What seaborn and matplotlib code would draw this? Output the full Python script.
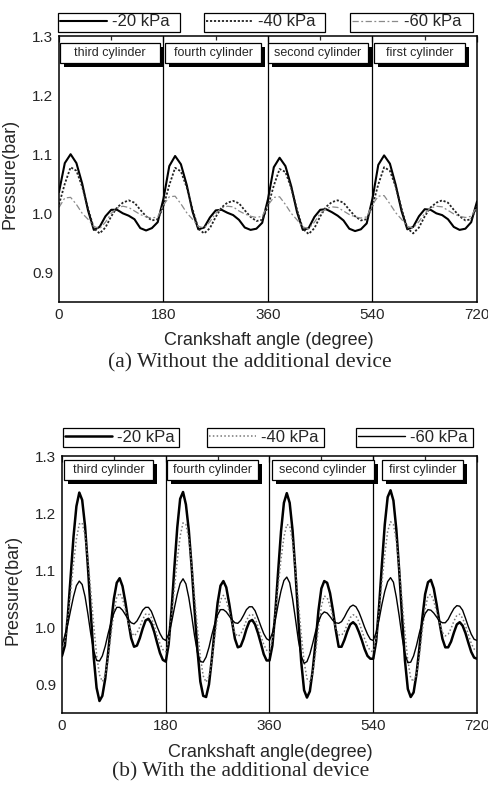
import numpy as np
import pandas as pd
import matplotlib
matplotlib.use("Agg")
import matplotlib.pyplot as plt
import matplotlib.patheffects as pe
from matplotlib.patches import Rectangle
from matplotlib.ticker import MultipleLocator
import seaborn as sns

# ---------------- data ----------------
angles_a = list(range(0, 721, 10))  # crankshaft angle, degrees (panel a)
angles_b = list(range(0, 721, 5))   # crankshaft angle, degrees (panel b)

series_labels = ["-20 kPa", "-40 kPa", "-60 kPa"]
cylinders = ["third cylinder", "fourth cylinder", "second cylinder", "first cylinder"]
x_ticks = [0, 180, 360, 540, 720]
y_ticks = [0.9, 1.0, 1.1, 1.2, 1.3]

# (a) without the additional device
a_20 = [1.036, 1.085, 1.100, 1.085, 1.050, 1.005, 0.972, 0.977, 0.995, 1.006, 1.006, 1.000, 0.996, 0.990, 0.975, 0.971, 0.975, 0.985,
        1.025, 1.080, 1.097, 1.083, 1.048, 1.003, 0.973, 0.976, 0.993, 1.005, 1.006, 1.001, 0.997, 0.989, 0.976, 0.972, 0.974, 0.984,
        1.024, 1.078, 1.094, 1.080, 1.046, 1.002, 0.972, 0.975, 0.994, 1.006, 1.007, 1.002, 0.996, 0.988, 0.974, 0.970, 0.973, 0.983,
        1.025, 1.082, 1.098, 1.084, 1.048, 1.004, 0.973, 0.977, 0.995, 1.007, 1.006, 1.000, 0.997, 0.990, 0.977, 0.972, 0.974, 0.985,
        1.020]
a_40 = [1.015, 1.050, 1.078, 1.072, 1.045, 1.008, 0.975, 0.966, 0.976, 0.995, 1.010, 1.018, 1.022, 1.018, 1.006, 0.995, 0.988, 0.990,
        1.012, 1.048, 1.077, 1.071, 1.044, 1.007, 0.974, 0.966, 0.975, 0.994, 1.010, 1.018, 1.021, 1.017, 1.005, 0.994, 0.987, 0.989,
        1.012, 1.047, 1.075, 1.070, 1.043, 1.006, 0.974, 0.965, 0.975, 0.995, 1.011, 1.019, 1.022, 1.018, 1.006, 0.995, 0.988, 0.990,
        1.013, 1.049, 1.078, 1.072, 1.045, 1.008, 0.975, 0.966, 0.976, 0.995, 1.010, 1.018, 1.022, 1.018, 1.006, 0.995, 0.988, 0.990,
        1.012]
a_60 = [1.010, 1.026, 1.027, 1.015, 1.000, 0.990, 0.978, 0.974, 0.985, 1.000, 1.009, 1.012, 1.010, 1.004, 0.998, 0.994, 0.992, 0.994,
        1.014, 1.028, 1.029, 1.016, 1.001, 0.990, 0.978, 0.975, 0.986, 1.000, 1.009, 1.012, 1.011, 1.004, 0.999, 0.995, 0.993, 0.995,
        1.014, 1.027, 1.028, 1.015, 1.000, 0.989, 0.977, 0.974, 0.985, 1.000, 1.008, 1.011, 1.010, 1.004, 0.998, 0.994, 0.992, 0.994,
        1.015, 1.029, 1.030, 1.016, 1.001, 0.990, 0.978, 0.975, 0.986, 1.000, 1.009, 1.012, 1.011, 1.005, 0.999, 0.995, 0.993, 0.995,
        1.012]

# (b) with the additional device (every 5 degrees)
b_20 = [0.950, 0.968, 1.019, 1.089, 1.159, 1.212, 1.236, 1.223, 1.177, 1.105, 1.024, 0.948, 0.894, 0.871, 0.880, 0.910, 0.955, 1.006,
        1.050, 1.078, 1.086, 1.072, 1.044, 1.011, 0.981, 0.966, 0.968, 0.981, 0.998, 1.012, 1.015, 1.007, 0.992, 0.973, 0.955, 0.943,
        0.940, 0.970, 1.030, 1.105, 1.175, 1.225, 1.237, 1.215, 1.170, 1.105, 1.030, 0.960, 0.905, 0.880, 0.878, 0.900, 0.945, 0.997,
        1.043, 1.073, 1.081, 1.070, 1.042, 1.010, 0.980, 0.965, 0.967, 0.980, 0.997, 1.010, 1.013, 1.005, 0.990, 0.972, 0.953, 0.942,
        0.942, 0.968, 1.025, 1.098, 1.168, 1.218, 1.235, 1.218, 1.170, 1.097, 1.015, 0.940, 0.890, 0.877, 0.888, 0.925, 0.975, 1.030,
        1.068, 1.081, 1.078, 1.060, 1.030, 0.995, 0.966, 0.966, 0.978, 0.993, 1.005, 1.009, 1.004, 0.992, 0.978, 0.962, 0.950, 0.945,
        0.945, 0.975, 1.035, 1.110, 1.180, 1.228, 1.240, 1.222, 1.172, 1.100, 1.018, 0.942, 0.892, 0.878, 0.886, 0.918, 0.963, 1.015,
        1.058, 1.079, 1.083, 1.068, 1.040, 1.008, 0.980, 0.965, 0.965, 0.975, 0.991, 1.005, 1.009, 1.003, 0.990, 0.973, 0.957, 0.947,
        0.945]
b_40 = [0.962, 0.976, 1.012, 1.061, 1.112, 1.155, 1.181, 1.183, 1.161, 1.118, 1.063, 1.004, 0.952, 0.917, 0.905, 0.916, 0.946, 0.987,
        1.026, 1.053, 1.060, 1.050, 1.031, 1.009, 0.992, 0.985, 0.990, 1.001, 1.014, 1.023, 1.024, 1.017, 1.003, 0.986, 0.971, 0.961,
        0.957, 0.978, 1.018, 1.068, 1.118, 1.160, 1.183, 1.180, 1.155, 1.110, 1.055, 0.998, 0.948, 0.915, 0.904, 0.914, 0.942, 0.982,
        1.020, 1.048, 1.056, 1.047, 1.028, 1.007, 0.990, 0.984, 0.988, 0.999, 1.012, 1.021, 1.023, 1.016, 1.002, 0.985, 0.970, 0.960,
        0.956, 0.980, 1.022, 1.072, 1.120, 1.158, 1.180, 1.178, 1.150, 1.102, 1.045, 0.988, 0.940, 0.910, 0.905, 0.920, 0.955, 1.000,
        1.037, 1.055, 1.052, 1.038, 1.018, 0.999, 0.987, 0.986, 0.993, 1.005, 1.017, 1.022, 1.020, 1.010, 0.995, 0.980, 0.967, 0.959,
        0.957, 0.982, 1.025, 1.078, 1.128, 1.168, 1.185, 1.180, 1.152, 1.105, 1.048, 0.990, 0.942, 0.911, 0.905, 0.917, 0.950, 0.993,
        1.032, 1.055, 1.058, 1.046, 1.027, 1.007, 0.991, 0.985, 0.988, 0.998, 1.011, 1.021, 1.023, 1.016, 1.003, 0.987, 0.972, 0.962,
        0.958]
b_60 = [0.968, 0.986, 1.005, 1.030, 1.054, 1.073, 1.081, 1.075, 1.054, 1.023, 0.988, 0.959, 0.942, 0.941, 0.950, 0.967, 0.989, 1.008,
        1.025, 1.035, 1.035, 1.030, 1.022, 1.014, 1.008, 1.006, 1.011, 1.020, 1.030, 1.035, 1.035, 1.028, 1.015, 1.001, 0.989, 0.980,
        0.977, 0.988, 1.008, 1.034, 1.058, 1.077, 1.085, 1.076, 1.052, 1.020, 0.985, 0.956, 0.940, 0.939, 0.948, 0.965, 0.987, 1.006,
        1.022, 1.031, 1.031, 1.027, 1.020, 1.013, 1.008, 1.007, 1.012, 1.021, 1.031, 1.036, 1.036, 1.029, 1.016, 1.002, 0.989, 0.980,
        0.977, 0.990, 1.012, 1.040, 1.064, 1.082, 1.088, 1.078, 1.050, 1.015, 0.978, 0.950, 0.937, 0.940, 0.953, 0.972, 0.993, 1.010,
        1.022, 1.027, 1.025, 1.019, 1.012, 1.008, 1.007, 1.010, 1.018, 1.028, 1.036, 1.039, 1.036, 1.027, 1.014, 1.000, 0.988, 0.979,
        0.977, 0.991, 1.013, 1.040, 1.063, 1.080, 1.087, 1.079, 1.053, 1.020, 0.983, 0.954, 0.938, 0.939, 0.950, 0.968, 0.990, 1.009,
        1.024, 1.031, 1.030, 1.025, 1.018, 1.011, 1.008, 1.008, 1.014, 1.024, 1.033, 1.038, 1.037, 1.030, 1.016, 1.001, 0.988, 0.979,
        0.977]

captions = ["(a) Without the additional device", "(b) With the additional device"]
xlabels = ["Crankshaft angle (degree)", "Crankshaft angle(degree)"]
ylabel = "Pressure(bar)"

# ---------------- style ----------------
sns.set_style("white")
plt.rcParams["font.family"] = ["Liberation Sans", "DejaVu Sans"]
plt.rcParams["axes.linewidth"] = 1.1

W, H = 489, 792
fig = plt.figure(figsize=(W / 100, H / 100), dpi=100)

def frac_axes(l, t, r, b):
    return fig.add_axes([l / W, 1 - b / H, (r - l) / W, (b - t) / H])

ax_a = frac_axes(59, 36, 477, 302)
ax_b = frac_axes(62, 456, 477, 713)

styles_a = [
    dict(color="black", linewidth=1.5, linestyle="-"),
    dict(color="#222222", linewidth=1.3, linestyle=(0, (1.2, 1.0))),
    dict(color="#8a8a8a", linewidth=0.9, linestyle=(0, (5, 2, 1.5, 2))),
]
styles_b = [
    dict(color="black", linewidth=1.8, linestyle="-"),
    dict(color="#777777", linewidth=1.1, linestyle=(0, (1, 1.5))),
    dict(color="black", linewidth=1.0, linestyle="-"),
]

def draw_panel(ax, angles, vals, styles, xlabel, cyl_spans, cyl_y, legend_boxes, caption, cap_x, cap_y, xlab_y):
    handles = []
    for v, lab, st in zip(vals, series_labels, styles):
        df = pd.DataFrame({"angle": angles, "pressure": v})
        n_before = len(ax.lines)
        sns.lineplot(data=df, x="angle", y="pressure", ax=ax, legend=False, **st)
        handles.append(ax.lines[n_before])
    for xv in x_ticks[1:-1]:
        ax.axvline(xv, color="black", linewidth=0.9, zorder=1)
    ax.set_xlim(0, 720)
    ax.set_ylim(0.85, 1.3)
    ax.set_xticks(x_ticks)
    ax.set_yticks(y_ticks)
    ax.set_yticklabels([f"{t:.1f}" for t in y_ticks])
    ax.xaxis.set_minor_locator(MultipleLocator(90))
    ax.yaxis.set_minor_locator(MultipleLocator(0.05))
    ax.tick_params(which="both", direction="in", top=True, right=False, labelsize=11, pad=4, width=0.9)
    ax.tick_params(which="major", length=4)
    ax.tick_params(which="minor", length=3)
    for s in ax.spines.values():
        s.set_color("black")
    ax.set_xlabel(xlabel, fontsize=13)
    ax.set_ylabel(ylabel, fontsize=13)
    ax.xaxis.set_label_coords(0.502, xlab_y)
    ax.yaxis.set_label_coords(-0.098, 0.48)
    # cylinder labels: white boxes with a black drop shadow
    y0, y1 = cyl_y
    for name, (x0, x1) in zip(cylinders, cyl_spans):
        r = Rectangle((x0, y0), x1 - x0, y1 - y0, transform=ax.transData, fc="white", ec="black",
                      lw=0.9, zorder=5)
        r.set_path_effects([pe.SimplePatchShadow(offset=(3, -3), shadow_rgbFace="black", alpha=1.0),
                            pe.Normal()])
        ax.add_patch(r)
        ax.text((x0 + x1) / 2, (y0 + y1) / 2, name, ha="center", va="center", fontsize=9, zorder=6)
    # separate framed legends above the axes
    for h, lab, (l, t_, rr, b) in zip(handles, series_labels, legend_boxes):
        leg = fig.legend(handles=[h], labels=[lab], loc="center",
                         bbox_to_anchor=(l / W, 1 - b / H, (rr - l) / W, (b - t_) / H),
                         bbox_transform=fig.transFigure, mode="expand",
                         frameon=True, fancybox=False, edgecolor="black", framealpha=1,
                         fontsize=12, handlelength=2.8, handletextpad=0.3,
                         borderpad=0.12, borderaxespad=0.0)
        leg.get_frame().set_linewidth(0.9)
    fig.text(cap_x, cap_y, caption, ha="center", va="center", fontsize=15.5,
             family=["Liberation Serif", "DejaVu Serif"])

draw_panel(ax_a, angles_a, [a_20, a_40, a_60], styles_a, xlabels[0],
           [(1.7, 174), (182.6, 348), (360.5, 532), (542.5, 699)], (1.254, 1.288),
           [(58, 12, 180, 32), (204, 12, 325, 32), (350, 12, 473, 32)],
           captions[0], 0.511, 1 - 363 / H, -0.112)
draw_panel(ax_b, angles_b, [b_20, b_40, b_60], styles_b, xlabels[1],
           [(3.5, 158), (182, 340), (364, 541), (555, 696)], (1.258, 1.293),
           [(63, 428, 179, 447), (207, 428, 324, 447), (356, 428, 473, 447)],
           captions[1], 0.492, 1 - 772 / H, -0.122)

fig.savefig("out.png", dpi=100)
